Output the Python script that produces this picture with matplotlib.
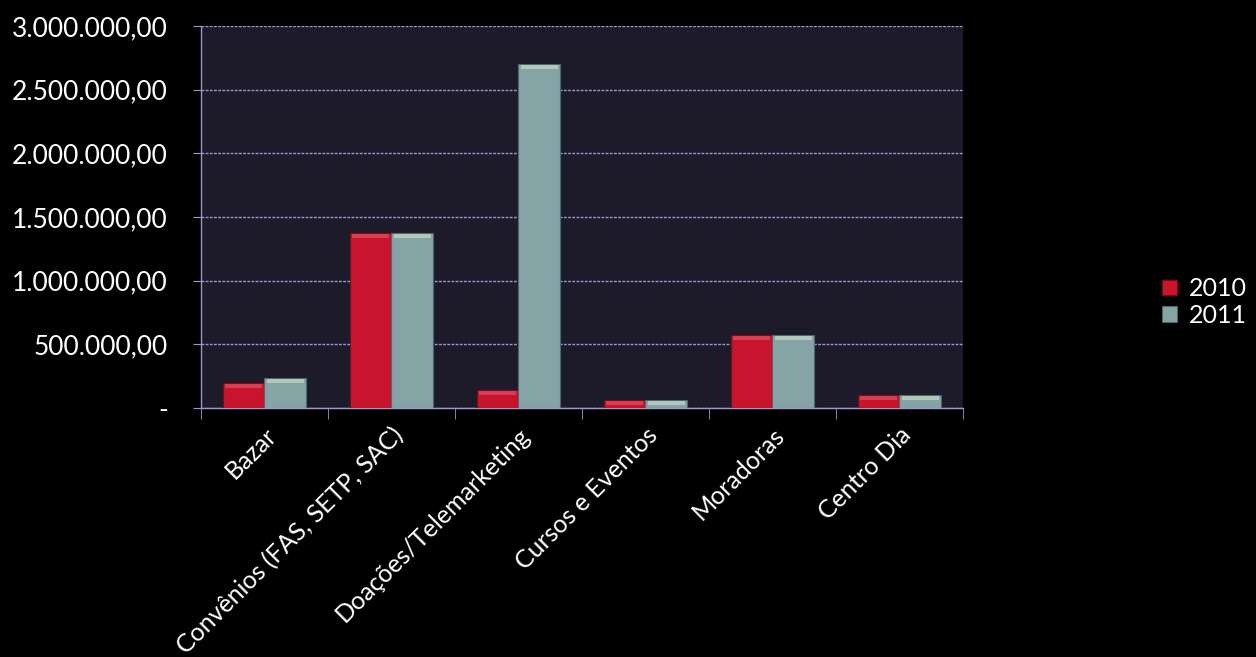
import matplotlib
matplotlib.use('Agg')
import matplotlib.pyplot as plt
import numpy as np
from matplotlib.ticker import FuncFormatter, FixedLocator

plt.rcParams['font.family'] = ['Lato', 'DejaVu Sans']

categorias = ['Bazar', 'Convênios (FAS, SETP, SAC)', 'Doações/Telemarketing',
              'Cursos e Eventos', 'Moradoras', 'Centro Dia']
valores_2010 = [195000, 1376000, 141000, 63000, 575000, 102000]
valores_2011 = [235000, 1376000, 2700000, 66000, 575000, 102000]
anos = ['2010', '2011']

cor_2010 = '#c8142c'
cor_2011 = '#86a3a6'
fundo_plot = '#1d1b29'
cor_linhas = '#9a98cc'


def formato_br(v, pos):
    if v == 0:
        return '-'
    s = f'{v:,.2f}'
    return s.replace(',', 'X').replace('.', ',').replace('X', '.')


fig = plt.figure(figsize=(12.56, 6.57), dpi=100, facecolor='black')
ax = fig.add_axes([0.16, 0.379, 0.6067, 0.5816])
ax.set_facecolor(fundo_plot)

x = np.arange(len(categorias))
larg = 0.325
b1 = ax.bar(x - larg / 2, valores_2010, larg, color=cor_2010,
            edgecolor='#7a0a18', linewidth=0.8, label=anos[0], zorder=3)
b2 = ax.bar(x + larg / 2, valores_2011, larg, color=cor_2011,
            edgecolor='#4d6670', linewidth=0.8, label=anos[1], zorder=3)

# faixa clara no topo das barras (efeito de brilho)
brilho = 30000
for vals, pos, cor in [(valores_2010, x - larg / 2, '#e86070'),
                       (valores_2011, x + larg / 2, '#d8e8c8')]:
    ax.bar(pos, [brilho] * len(vals), larg * 0.9,
           bottom=[v - brilho * 1.3 for v in vals],
           color=cor, alpha=0.55, linewidth=0, zorder=4)

ax.set_xlim(-0.5, len(categorias) - 0.5)
ax.set_ylim(0, 3000000)
ax.yaxis.set_major_locator(FixedLocator(np.arange(0, 3000001, 500000)))
ax.yaxis.set_major_formatter(FuncFormatter(formato_br))
ax.grid(axis='y', color=cor_linhas, linewidth=1.0, linestyle=(0, (2, 1)), zorder=0)
ax.set_axisbelow(True)

ax.set_xticks(x)
ax.set_xticklabels(categorias, rotation=45, ha='right', rotation_mode='anchor',
                   fontsize=18, color='white')
ax.tick_params(axis='x', length=0, pad=11)
ax.set_xticks(np.arange(-0.5, len(categorias)), minor=True)
ax.tick_params(axis='x', which='minor', length=8, color=cor_linhas, direction='out')
ax.tick_params(axis='y', labelsize=19, labelcolor='white', length=6,
               color=cor_linhas, pad=18)

for lado in ['top', 'right']:
    ax.spines[lado].set_visible(False)
for lado in ['left', 'bottom']:
    ax.spines[lado].set_color(cor_linhas)
    ax.spines[lado].set_linewidth(1.0)

leg = fig.legend(handles=[b1, b2], labels=anos, loc='center left',
                 bbox_to_anchor=(0.913, 0.54), frameon=False, fontsize=18,
                 labelcolor='white', handlelength=0.6, handleheight=0.6,
                 handletextpad=0.5, labelspacing=0.15, borderaxespad=0.2)

fig.savefig('out.png', dpi=100, facecolor='black')
